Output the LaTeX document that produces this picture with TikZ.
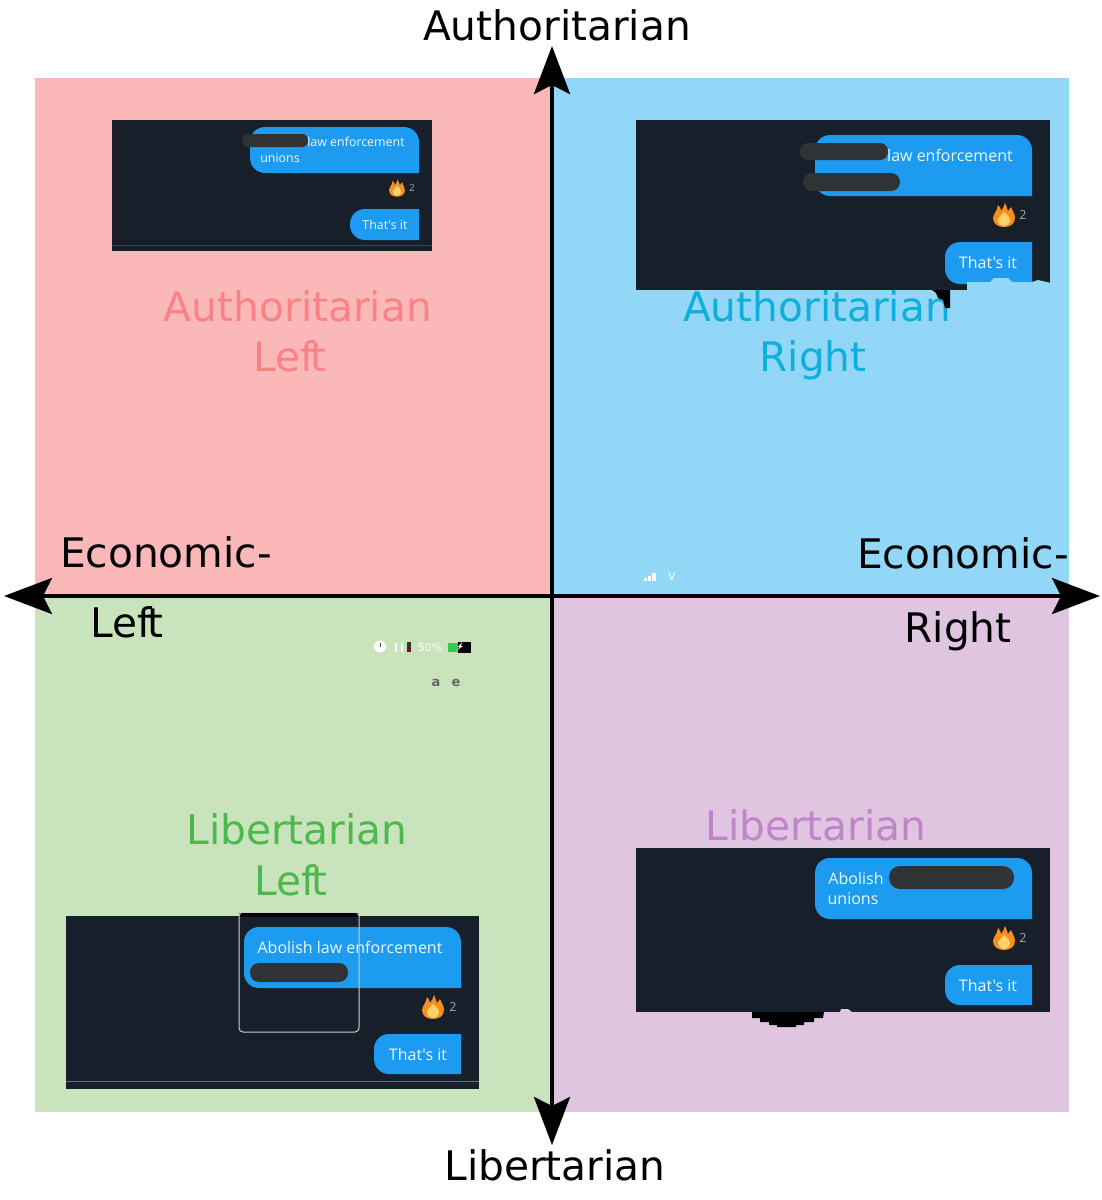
\documentclass[tikz,border=0pt]{standalone}
\usepackage{fontspec}
\setmainfont{DejaVu Sans}
\newfontfamily\bubblefont{Open Sans}
\usetikzlibrary{arrows.meta}

\definecolor{quadred}{HTML}{FBB8B8}
\definecolor{quadblue}{HTML}{92D7F8}
\definecolor{quadgreen}{HTML}{C9E4BC}
\definecolor{quadpurple}{HTML}{DFC5E0}
\definecolor{textred}{HTML}{F98285}
\definecolor{textblue}{HTML}{10AEDB}
\definecolor{textgreen}{HTML}{4DB84D}
\definecolor{textpurple}{HTML}{C184C8}
\definecolor{shotdark}{HTML}{17202A}
\definecolor{tweetblue}{HTML}{1D9BF0}
\definecolor{blackout}{HTML}{2F3336}
\definecolor{flameorange}{HTML}{F58F1E}
\definecolor{flameyellow}{HTML}{FFD36B}
\definecolor{batterygreen}{HTML}{2ECC55}

\tikzset{
  axis/.style={line width=4pt, {Stealth[length=48pt,width=36pt,inset=9pt]}-{Stealth[length=48pt,width=36pt,inset=9pt]}},
  axislabel/.style={anchor=base, inner sep=0pt, font=\fontsize{40.7}{40.7}\selectfont},
  quadlabel/.style={anchor=base, inner sep=0pt, font=\fontsize{40.7}{40.7}\selectfont},
  shot/.style={fill=shotdark},
  bubble/.style={fill=tweetblue, rounded corners=15pt},
  redact/.style={fill=blackout},
  bubbletext/.style={inner sep=0pt, text=white!92!tweetblue, font=\bubblefont\fontsize{16}{16}\selectfont},
  bubbletextsmall/.style={inner sep=0pt, text=white!92!tweetblue, font=\bubblefont\fontsize{12.4}{12.4}\selectfont},
  count/.style={inner sep=0pt, text=black!35!white, font=\bubblefont\fontsize{12.5}{12.5}\selectfont},
  flame/.pic={
    \fill[flameorange] (-11,3) .. controls (-10,-3) and (-7,-3) .. (-6,-10) .. controls (-4,-8) and (-3,-6) .. (-3,-4)
      .. controls (-1,-6) and (0,-9) .. (1,-12) .. controls (3,-8) and (3,-6) .. (4,-4) .. controls (5,-5) and (6,-7) .. (7,-8)
      .. controls (8,-4) and (11,-2) .. (11,3) .. controls (11,9) and (6,12) .. (0,12) .. controls (-6,12) and (-11,9) .. (-11,3) -- cycle;
    \fill[flameyellow] (-6,5) .. controls (-5,1) and (-2,0) .. (0,-3) .. controls (2,0) and (6,1) .. (6,5) .. controls (6,9) and (3,11) .. (0,11) .. controls (-3,11) and (-6,9) .. (-6,5) -- cycle;
  }
}

\begin{document}
\begin{tikzpicture}[x=1pt,y=-1pt]
\useasboundingbox (0,0) rectangle (1102,1200);

% ---------- quadrants ----------
\fill[quadred] (35,78) rectangle (552,596);
\fill[quadblue] (552,78) rectangle (1069,596);
\fill[quadgreen] (35,596) rectangle (552,1112);
\fill[quadpurple] (552,596) rectangle (1069,1112);

% ---------- quadrant names ----------
\node[quadlabel, text=textred] (alname) at (298,321) {Authoritarian};
\node[quadlabel, text=textred] (alleft) at (290,371) {Lef\kern-4pt t};
\node[quadlabel, text=textblue] (arname) at (817,321) {Authoritarian};
\node[quadlabel, text=textblue] (arright) at (813,371) {Right};
\node[quadlabel, text=textgreen] (llname) at (297,844) {Libertarian};
\node[quadlabel, text=textgreen] (llleft) at (291,895) {Lef\kern-4pt t};
\node[quadlabel, text=textpurple] (lrname) at (816,840) {Libertarian};

% ---------- (A) authoritarian left screenshot ----------
\begin{scope}[shift={(112,120)}]
  \fill[shot] (0,0) rectangle (320,131);
  \fill[bubble] (307,53) -- (138,53) -- (138,7) -- (307,7) [sharp corners] -- cycle;
  \fill[redact, rounded corners=6pt] (130,14) rectangle (196,27);
  \node[bubbletextsmall] (alline) at (244,22) {law enforcement};
  \node[bubbletextsmall] (alunions) at (168,38) {unions};
  \pic[scale=0.72] at (285,68) {flame};
  \node[count, font=\bubblefont\fontsize{10}{10}\selectfont] (alcount) at (300,68) {2};
  \fill[bubble] (307,120) -- (238,120) -- (238,89) [sharp corners] -- (307,89) -- cycle;
  \node[bubbletextsmall] (althat) at (273,105) {That's it};
  \fill[white!15!shotdark] (0,125) rectangle (320,126);
\end{scope}

% ---------- (B) authoritarian right screenshot ----------
\begin{scope}[shift={(636,120)}]
  \fill[shot] (0,0) rectangle (414,170);
  \fill[bubble] (396,76) -- (179,76) -- (179,15) -- (396,15) [sharp corners] -- cycle;
  \fill[redact, rounded corners=8pt] (164,23) rectangle (252,40);
  \fill[white] (213,60) circle (0.8);
  \fill[redact, rounded corners=9pt] (167,53) rectangle (264,71);
  \node[bubbletext] (arline) at (314,35) {law enforcement};
  \pic at (368,95) {flame};
  \node[count] (arcount) at (387,95) {2};
  \fill[bubble] (396,164) -- (309,164) -- (309,122) [sharp corners] -- (396,122) -- cycle;
  \node[bubbletext] (arthat) at (352,142) {That's it};
  % torn corner
  \fill[quadblue] (331,171) -- (331,162) -- (354,162) -- (358,158) -- (372,158) -- (376,162) -- (396,162) -- (402,160) -- (415,163) -- (415,171) -- cycle;
  \fill[black] (296,170) -- (314,170) -- (314,188) -- (309,188) -- (307,180) -- (302,178) -- (300,173) -- cycle;
\end{scope}

% ---------- (C) libertarian left screenshot ----------
\begin{scope}[shift={(66,916)}]
  \fill[shot] (0,0) rectangle (413,173);
  \fill[black] (173,-3) rectangle (293,1);
  \fill[bubble] (395,72) -- (178,72) -- (178,11) -- (395,11) [sharp corners] -- cycle;
  \node[bubbletext] (llline) at (284,31) {Abolish law enforcement};
  \fill[redact, rounded corners=9pt] (184,47) rectangle (282,66);
  \draw[white!80!black, line width=1pt, rounded corners=4pt] (173,-4) rectangle (293,116);
  \pic at (367,91) {flame};
  \node[count] (llcount) at (387,91) {2};
  \fill[bubble] (395,158) -- (308,158) -- (308,118) [sharp corners] -- (395,118) -- cycle;
  \node[bubbletext] (llthat) at (352,138) {That's it};
  \fill[white!35!shotdark] (0,165) rectangle (413,166);
\end{scope}

% ---------- (D) libertarian right screenshot ----------
\begin{scope}[shift={(636,848)}]
  \fill[shot] (0,0) rectangle (414,164);
  \fill[bubble] (396,71) -- (179,71) -- (179,10) -- (396,10) [sharp corners] -- cycle;
  \node[bubbletext] (lrabolish) at (220,30) {Abolish};
  \node[bubbletext] (lrunions) at (217,51) {unions};
  \fill[redact, rounded corners=11pt] (253,18) rectangle (378,41);
  \pic at (368,90) {flame};
  \node[count] (lrcount) at (387,90) {2};
  \fill[bubble] (396,157) -- (309,157) -- (309,117) [sharp corners] -- (396,117) -- cycle;
  \node[bubbletext] (lrthat) at (352,137) {That's it};
  \fill[black] (116,164) -- (188,164) -- (187,170) -- (178,170) -- (178,174) -- (168,174) -- (168,177) -- (160,177) -- (160,179) -- (141,179) -- (141,177) -- (133,177) -- (133,174) -- (124,174) -- (124,170) -- (116,170) -- cycle;
  \fill[quadpurple] (204,164) -- (205,161) -- (212,161) -- (216,164) -- cycle;
\end{scope}

% ---------- status bar scraps ----------
\fill[white] (380,646.5) circle (6);
\fill[black!70] (380,643) rectangle (381,647);
\fill[white] (395,643) rectangle (397,652);
\fill[white] (401,643) rectangle (403,652);
\fill[black!80] (407,642) rectangle (411,652);
\fill[red!60!black] (407,649) rectangle (411,652);
\node[inner sep=0pt, text=white, font=\fontsize{11}{11}\selectfont] (batterypct) at (430,647) {50\%};
\fill[batterygreen] (448,643) rectangle (458,652);
\fill[black] (458,642) rectangle (471,653);
\fill[white] (456,651) -- (460,647) -- (458,647) -- (462,642) -- (461,646) -- (463,646) -- cycle;
\node[inner sep=0pt, text=black!60, font=\bfseries\fontsize{13}{13}\selectfont] (scrapa) at (436,683) {a};
\node[inner sep=0pt, text=black!60, font=\bfseries\fontsize{13}{13}\selectfont] (scrape) at (456,683) {e};
\fill[white] (644,578) rectangle (647,581);
\fill[white] (648,576) rectangle (651,581);
\fill[white] (652,573) rectangle (656,581);
\node[inner sep=0pt, text=white, font=\fontsize{11}{11}\selectfont] (signalv) at (672,576) {V};

% ---------- axes ----------
\coordinate (west) at (4,596);
\coordinate (east) at (1100,596);
\coordinate (north) at (552,46);
\coordinate (south) at (552,1145);
\draw[axis] (west) -- (east);
\draw[axis] (north) -- (south);

\node[axislabel] (top) at (557,40) {Authoritarian};
\node[axislabel] (bottom) at (555,1180) {Libertarian};
\node[axislabel] (econleft) at (166,567) {Economic-};
\node[axislabel] (leftword) at (127,637) {Lef\kern-4pt t};
\node[axislabel] (econright) at (963,568) {Economic-};
\node[axislabel] (rightword) at (958,642) {Right};

\end{tikzpicture}
\end{document}
